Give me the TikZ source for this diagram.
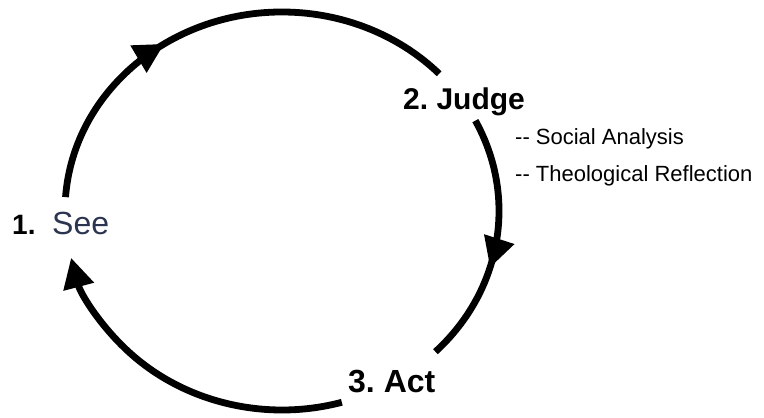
\documentclass[tikz,border=0pt]{standalone}
\usepackage{fontspec}
\setmainfont{Liberation Sans}
\usetikzlibrary{arrows.meta,decorations.markings}
\definecolor{seeblue}{HTML}{2C3550}
\frenchspacing
\begin{document}
\begin{tikzpicture}[x=1pt,y=1pt,
  cyc/.style={line width=6.8pt, black},
  midarrow/.style={postaction={decorate},decoration={markings, mark=at position #1 with {\arrow{Triangle[length=30pt,width=30pt]}}}},
  lbl/.style={font=\fontsize{30}{30}\selectfont\bfseries, anchor=base west, inner sep=0pt},
  sub/.style={font=\fontsize{22}{22}\selectfont, anchor=base west, inner sep=0pt}]
\useasboundingbox[fill=white] (0,0) rectangle (764,418);
\coordinate (c) at (282,207);
\path (c) ++(176:217 and 199) coordinate (a1s);
\path (c) ++(27:217 and 199) coordinate (a2s);
\path (c) ++(-74:217 and 199) coordinate (a3s);
\draw[cyc, midarrow=0.39] (a1s) arc[start angle=176,end angle=43.6,x radius=217,y radius=199];
\draw[cyc, midarrow=0.6] (a2s) arc[start angle=27,end angle=-45,x radius=217,y radius=199];
\draw[cyc, -{Triangle[length=30pt,width=30pt]}] (a3s) arc[start angle=-74,end angle=-166.4,x radius=217,y radius=199];
\node[lbl, font=\fontsize{28}{28}\selectfont\bfseries] (n1) at (12,183) {1.};
\node[anchor=base west, inner sep=0pt, font=\fontsize{32}{32}\selectfont, text=seeblue] (see) at (52,183) {See};
\node[lbl] (judge) at (403,308) {2. Judge};
\node[lbl, font=\fontsize{32}{32}\selectfont\bfseries] (act) at (348,25) {3. Act};
\node[sub] (soc) at (515,273) {-{}- Social Analysis};
\node[sub] (theo) at (515,236) {-{}- Theological Reflection};
\end{tikzpicture}
\end{document}
